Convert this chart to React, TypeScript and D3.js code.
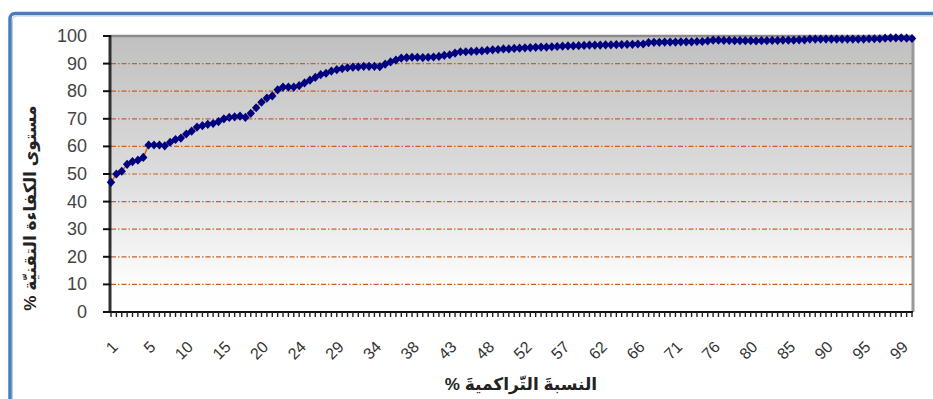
import React from "react";
import * as d3 from "d3";

// ---- data ----
const efficiency: number[] = [
  47, 50, 51, 53.5, 54.5, 55, 56, 60.5, 60.5, 60.5,
  60.2, 61.5, 62.5, 63, 64.5, 65.5, 67, 67.5, 68, 68.3,
  69, 70, 70.5, 70.7, 71, 70.5, 72, 74, 76, 77.5,
  78.3, 80.5, 81.5, 81.5, 81.5, 82, 83, 84, 85, 86,
  86.5, 87.3, 87.8, 88.2, 88.5, 88.7, 88.8, 89, 89, 89,
  88.9, 89.8, 90.6, 91.3, 92, 92.2, 92.3, 92.3, 92.2, 92.3,
  92.4, 92.6, 93, 93.2, 93.8, 94.3, 94.3, 94.4, 94.5, 94.6,
  94.8, 95, 95.1, 95.3, 95.3, 95.5, 95.6, 95.7, 95.8, 95.9,
  96, 96, 96.1, 96.2, 96.3, 96.4, 96.4, 96.5, 96.6, 96.7,
  96.7, 96.7, 96.8, 96.8, 96.9, 96.9, 97.0, 97.0, 97.1, 97.1,
  97.6, 97.7, 97.7, 97.8, 97.8, 97.8, 97.9, 97.9, 97.9, 98.0,
  98.0, 98.2, 98.5, 98.5, 98.4, 98.4, 98.3, 98.3, 98.3, 98.3,
  98.2, 98.3, 98.3, 98.4, 98.4, 98.5, 98.5, 98.5, 98.6, 98.6,
  98.9, 98.9, 98.9, 98.9, 98.9, 98.9, 98.9, 98.9, 98.9, 98.9,
  98.9, 99.0, 99.0, 99.0, 99.2, 99.3, 99.3, 99.3, 99.2, 99.1,
];
const xTickLabels: string[] = [
  "1", "5", "10", "15", "20", "24", "29", "34", "38", "43", "48",
  "52", "57", "62", "66", "71", "76", "80", "85", "90", "95", "99",
];
const xLabelStep = 7;
const yTicks: number[] = [0, 10, 20, 30, 40, 50, 60, 70, 80, 90, 100];
const yGridValues: number[] = [10, 20, 30, 40, 50, 60, 70, 80, 90];
const xTitle = "النسبةَ التّراكميةَ %";
const yTitle = "مستوى الكفاءة التقنيّة %";

export default function App() {
  const W = 933, H = 399;
  const left = 111, right = 912, top = 36, bottom = 312;
  const n = efficiency.length;
  const x = d3.scaleLinear().domain([0, n - 1]).range([left, right]);
  const y = d3.scaleLinear().domain([0, 100]).range([bottom, top]);
  const line = d3
    .line<number>()
    .x((_, i) => x(i))
    .y((d) => y(d));
  const diamond = "M0,-4.6L4.2,0L0,4.6L-4.2,0Z";
  const font = "'Liberation Sans', Arial, 'DejaVu Sans', sans-serif";
  const idx = d3.range(n);

  return (
    <svg
      width={W}
      height={H}
      style={{ position: "absolute", left: 0, top: 0, background: "#fff" }}
      fontFamily={font}
    >
      <defs>
        <linearGradient id="bg" x1="0" y1="0" x2="0" y2="1">
          <stop offset="0" stopColor="#c0c0c0" />
          <stop offset="0.5" stopColor="#dcdcdc" />
          <stop offset="0.9" stopColor="#fdfdfd" />
          <stop offset="1" stopColor="#ffffff" />
        </linearGradient>
        <filter id="soft" x="-10%" y="-10%" width="120%" height="120%">
          <feGaussianBlur stdDeviation="0.45" />
        </filter>
      </defs>
      {/* outer frame */}
      <rect x={10} y={13.5} width={960} height={440} rx={5} fill="none" stroke="#4a7ebb" strokeWidth={3.5} />
      <rect x={12.5} y={16} width={955} height={435} rx={4} fill="none" stroke="#b9cde8" strokeWidth={1} />

      {/* plot area */}
      <rect x={left} y={top} width={right - left} height={bottom - top} fill="url(#bg)" />
      <line x1={left} x2={right + 1} y1={top} y2={top} stroke="#8a8a8a" strokeWidth={2.5} />
      <line x1={right + 1} x2={right + 1} y1={top} y2={bottom} stroke="#9a9a9a" strokeWidth={3} />

      {/* gridlines */}
      {yGridValues.map((v) => (
        <line
          key={v}
          x1={left}
          x2={right}
          y1={y(v)}
          y2={y(v)}
          stroke="#c8602a"
          strokeWidth={1.2}
          strokeDasharray="5 2 1.5 2"
        />
      ))}

      {/* y axis */}
      <line x1={left - 1} x2={left - 1} y1={top - 1} y2={bottom} stroke="#303030" strokeWidth={3} />
      {yTicks.map((v) => (
        <g key={v}>
          <line x1={left - 8} x2={left} y1={y(v)} y2={y(v)} stroke="#111" strokeWidth={2} />
          <text
            x={87}
            y={y(v)}
            textAnchor="end"
            dominantBaseline="central"
            fontSize={18}
            fill="#444"
          >
            {v}
          </text>
        </g>
      ))}

      {/* x axis */}
      <line x1={left - 8} x2={right + 1} y1={bottom} y2={bottom} stroke="#111" strokeWidth={2} />
      {idx.map((i) => (
        <line key={i} x1={x(i)} x2={x(i)} y1={bottom} y2={bottom + 5} stroke="#222" strokeWidth={1.4} />
      ))}
      {xTickLabels.map((lab, k) => {
        const px = x(k * xLabelStep) + 4;
        const py = 344;
        return (
          <text
            key={lab}
            x={px}
            y={py}
            textAnchor="end"
            dominantBaseline="central"
            fontSize={16}
            fill="#333"
            transform={`rotate(-45 ${px} ${py})`}
          >
            {lab}
          </text>
        );
      })}

      {/* series */}
      <path d={line(efficiency) || ""} fill="none" stroke="#d2691e" strokeWidth={1.6} />
      <g filter="url(#soft)">
        {efficiency.map((v, i) => (
          <path key={i} d={diamond} transform={`translate(${x(i)},${y(v)})`} fill="#000080" />
        ))}
      </g>

      {/* titles */}
      <text
        x={521}
        y={384}
        textAnchor="middle"
        dominantBaseline="central"
        fontSize={17}
        fontWeight="bold"
        fill="#222"
        direction="rtl"
      >
        {xTitle}
      </text>
      <text
        x={30}
        y={208}
        textAnchor="middle"
        dominantBaseline="central"
        fontSize={17}
        fontWeight="bold"
        fill="#222"
        direction="rtl"
        transform="rotate(-90 30 208)"
      >
        {yTitle}
      </text>
    </svg>
  );
}
